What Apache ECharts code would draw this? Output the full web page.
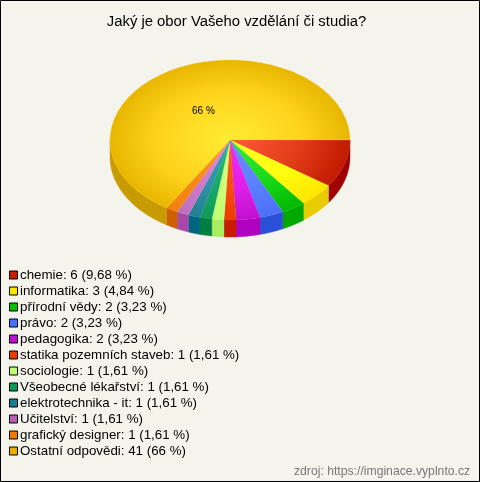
<!DOCTYPE html>
<html><head><meta charset="utf-8">
<style>html,body{margin:0;padding:0;background:#f5f4ec}#c{width:480px;height:482px}</style>
<script src="https://cdn.jsdelivr.net/npm/echarts@6/dist/echarts.min.js"></script>
</head><body><div id="c"></div>
<script>
const categories = ['chemie','informatika','přírodní vědy','právo','pedagogika','statika pozemních staveb','sociologie','Všeobecné lékařství','elektrotechnika - it','Učitelství','grafický designer','Ostatní odpovědi'];
const counts = [6,3,2,2,2,1,1,1,1,1,1,41];
const percentLabels = ['9,68','4,84','3,23','3,23','3,23','1,61','1,61','1,61','1,61','1,61','1,61','66'];
const legendColors = ['#c81e00','#ffe600','#00c000','#4a70ff','#c010d0','#e83c00','#c0ff70','#109858','#1a7f90','#b860b0','#f07c00','#e8b000'];
const innerColors = ['#ff5a38','#ffff22','#33f033','#6a90ff','#f030f0','#ff5a20','#ddff88','#28c078','#3aa0b0','#e090e0','#ff9a20','#ffec33'];
const midColors = ['#e03c18','#ffff10','#18d818','#5a80ff','#e020e8','#f84c10','#ccff78','#18a868','#3090a8','#cc78cc','#f88818','#ffd31c'];
const outerColors = ['#c01a00','#ffe400','#00b800','#4a70f8','#c010d0','#e83c00','#c0ff70','#109858','#208090','#c070c0','#f08010','#e8b600'];
const wallColors = ['#a00000','#e6cc00','#00a800','#2a50d8','#b000c0','#c81c00','#a8ee60','#008040','#006680','#a848a8','#cc6000','#c89c00'];

const CX = 230, CY = 140, RX = 120, RY = 80, DEPTH = 17;
const total = counts.reduce((a, b) => a + b, 0);
let running = 0;
const starts = counts.map(v => { const s = running; running += v; return s / total * Math.PI * 2; });

function wallPoints(a0, a1) {
  const from = Math.max(a0, 0), to = Math.min(a1, Math.PI);
  if (to <= from) return null;
  const top = [], bottom = [];
  const n = Math.max(2, Math.ceil((to - from) / 0.02));
  for (let i = 0; i <= n; i++) {
    const a = from + (to - from) * i / n;
    const x = CX + RX * Math.cos(a), y = CY + RY * Math.sin(a);
    top.push([x, y]); bottom.unshift([x, y + DEPTH]);
  }
  return top.concat(bottom);
}

const series = categories.map((name, i) => ({
  type: 'custom', name, coordinateSystem: 'none', silent: true, animation: false,
  itemStyle: { color: legendColors[i] },
  data: [counts[i]],
  renderItem(params, api) {
    const a0 = starts[i], a1 = a0 + api.value(0) / total * Math.PI * 2;
    const children = [];
    const pts = wallPoints(a0, a1);
    if (pts) children.push({ type: 'polygon', shape: { points: pts }, style: { fill: wallColors[i], stroke: wallColors[i], lineWidth: 0.4 } });
    children.push({
      type: 'group', scaleY: RY / RX, originX: CX, originY: CY,
      children: [{
        type: 'sector',
        shape: { cx: CX, cy: CY, r0: 0, r: RX, startAngle: a0, endAngle: a1, clockwise: true },
        style: {
          fill: { type: 'radial', x: CX, y: CY, r: RX, global: true,
            colorStops: [{ offset: 0, color: innerColors[i] }, { offset: 0.6, color: midColors[i] }, { offset: 1, color: outerColors[i] }] },
          stroke: midColors[i], lineWidth: 0.3
        }
      }]
    });
    return { type: 'group', children };
  }
}));

const chart = echarts.init(document.getElementById('c'), null, { renderer: 'canvas' });
chart.setOption({
  backgroundColor: '#f5f4ec',
  animation: false,
  textStyle: { fontFamily: 'Liberation Sans' },
  title: { text: 'Jaký je obor Vašeho vzdělání či studia?', left: 231.5, top: 9, textAlign: 'center',
    textStyle: { fontFamily: 'Liberation Sans', fontSize: 14.83, fontWeight: 'normal', color: '#000' } },
  legend: {
    orient: 'vertical', left: 9, top: 267, padding: 0, itemWidth: 8, itemHeight: 8, itemGap: 0,
    selectedMode: false, icon: 'rect',
    data: categories.map((name, i) => ({ name, icon: 'rect', itemStyle: { color: legendColors[i], borderColor: '#000', borderWidth: 1 } })),
    formatter: n => { const i = categories.indexOf(n); return n + ': ' + counts[i] + ' (' + percentLabels[i] + ' %)'; },
    textStyle: { fontFamily: 'Liberation Sans', fontSize: 13.33, color: '#000', lineHeight: 16, height: 16, padding: [0, 0, 0, -2.5] }
  },
  series,
  graphic: [
    { type: 'rect', z: 100, silent: true, shape: { x: 0.5, y: 0.5, width: 479, height: 481 }, style: { fill: 'none', stroke: '#000', lineWidth: 1 } },
    { type: 'text', z: 100, silent: true, style: { x: 192, y: 106, text: '66 %', font: '10px "Liberation Sans"', fill: '#000' } },
    { type: 'text', z: 100, silent: true, style: { x: 294, y: 466, text: 'zdroj: https://imginace.vyplnto.cz', font: '12.2px "Liberation Sans"', fill: '#777' } }
  ]
});
</script></body></html>
